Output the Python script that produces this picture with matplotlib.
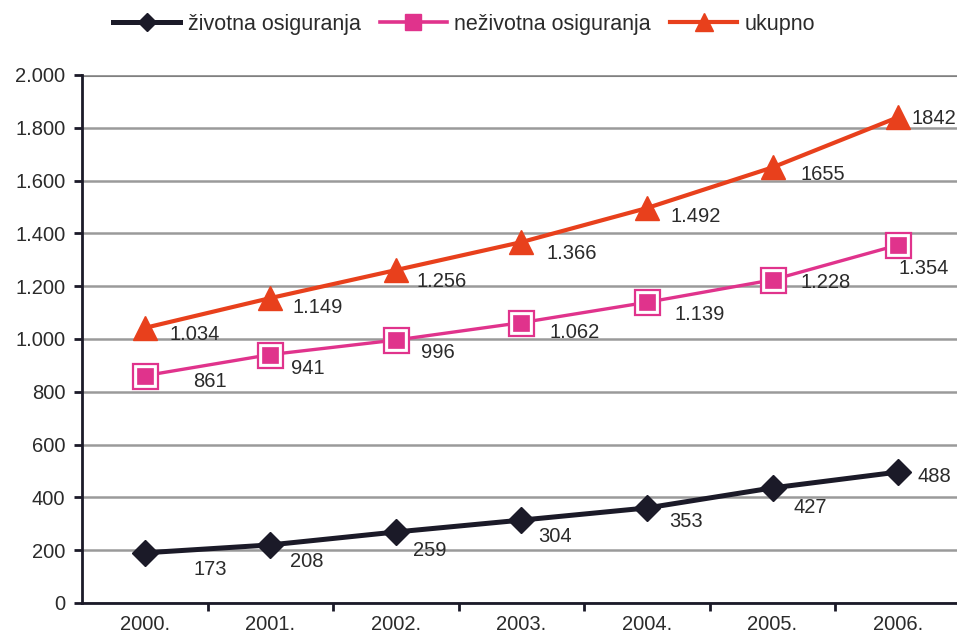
import matplotlib.pyplot as plt
from matplotlib.lines import Line2D
from matplotlib.ticker import FixedLocator, FuncFormatter

plt.rcParams['font.family'] = ['Liberation Sans', 'DejaVu Sans']

years = ['2000.', '2001.', '2002.', '2003.', '2004.', '2005.', '2006.']

zivotna = [190, 220, 269, 314, 360, 436, 496]
zivotna_labels = ['173', '208', '259', '304', '353', '427', '488']

nezivotna = [861, 941, 996, 1062, 1139, 1224, 1356]
nezivotna_labels = ['861', '941', '996', '1.062', '1.139', '1.228', '1.354']

ukupno = [1042, 1155, 1261, 1367, 1496, 1650, 1840]
ukupno_labels = ['1.034', '1.149', '1.256', '1.366', '1.492', '1655', '1842']

# label offsets in points (dx, dy)
zivotna_off = [(35, -12), (14, -12), (12, -13), (12, -12), (16, -10), (15, -14), (14, -3)]
nezivotna_off = [(35, -4), (15, -10), (18, -9), (20, -7), (20, -9), (20, -2), (0, -17)]
ukupno_off = [(18, -5), (16, -7), (15, -8), (18, -8), (17, -6), (20, -5), (10, -1)]

black = '#1b1a28'
pink = '#e0338c'
red = '#e8401c'
txt = '#2b2b2b'
fs = 14.5

fig = plt.figure(figsize=(9.57, 6.33), dpi=100)
ax = fig.add_axes([82 / 957, 30 / 633, 1 - 82 / 957 + 0.004, 528 / 633])

x = list(range(len(years)))

ax.plot(x, zivotna, color=black, lw=3.6, marker='D', ms=13, mfc=black, mec=black, zorder=5)
ax.plot(x, nezivotna, color=pink, lw=2.4, zorder=5)
ax.plot(x, nezivotna, ls='none', marker='s', ms=18, mfc='white', mec=pink, mew=1.6, zorder=6)
ax.plot(x, nezivotna, ls='none', marker='s', ms=12, mfc=pink, mec=pink, mew=0.5, zorder=7)
ax.plot(x, ukupno, color=red, lw=3, marker='^', ms=17, mfc=red, mec=red, zorder=5)

for vals, labs, offs in [(zivotna, zivotna_labels, zivotna_off),
                         (nezivotna, nezivotna_labels, nezivotna_off),
                         (ukupno, ukupno_labels, ukupno_off)]:
    for i, (v, s) in enumerate(zip(vals, labs)):
        ax.annotate(s, (i, v), xytext=offs[i], textcoords='offset points',
                    ha='left', va='center', fontsize=fs, color=txt, zorder=8)

ax.set_xlim(-0.5, 6.5)
ax.set_ylim(0, 2000)
ax.set_yticks(range(0, 2001, 200))
ax.yaxis.set_major_formatter(FuncFormatter(lambda v, p: f'{int(v):,}'.replace(',', '.')))
ax.grid(axis='y', color='#9a9a9a', lw=1.8, zorder=0)
ax.axhline(2000, color='#333333', lw=2.2, zorder=1)

ax.xaxis.set_major_locator(FixedLocator([i + 0.5 for i in range(6)]))
ax.xaxis.set_minor_locator(FixedLocator(x))
ax.set_xticklabels([], minor=False)
ax.set_xticklabels(years, minor=True)
ax.tick_params(axis='x', which='major', length=6, width=2, color=black)
ax.tick_params(axis='x', which='minor', length=0, pad=9, labelsize=fs, labelcolor=txt)
ax.tick_params(axis='y', length=6, width=2, color=black, labelsize=fs, labelcolor=txt, pad=6)

for s in ['top', 'right']:
    ax.spines[s].set_visible(False)
for s in ['left', 'bottom']:
    ax.spines[s].set_linewidth(2)
    ax.spines[s].set_color(black)

h_z = Line2D([], [], color=black, lw=3.6, marker='D', ms=9)
h_n = Line2D([], [], color=pink, lw=2.6, marker='s', ms=11, mfc=pink, mec=pink)
h_u = Line2D([], [], color=red, lw=3, marker='^', ms=13)
fig.legend([h_z, h_n, h_u], ['životna osiguranja', 'neživotna osiguranja', 'ukupno'],
           loc='center', bbox_to_anchor=(0.485, 0.962), ncol=3, frameon=False,
           fontsize=15.5, handlelength=3.1, columnspacing=0.9, handletextpad=0.35,
           labelcolor=txt)

fig.savefig('out.png', dpi=100)
